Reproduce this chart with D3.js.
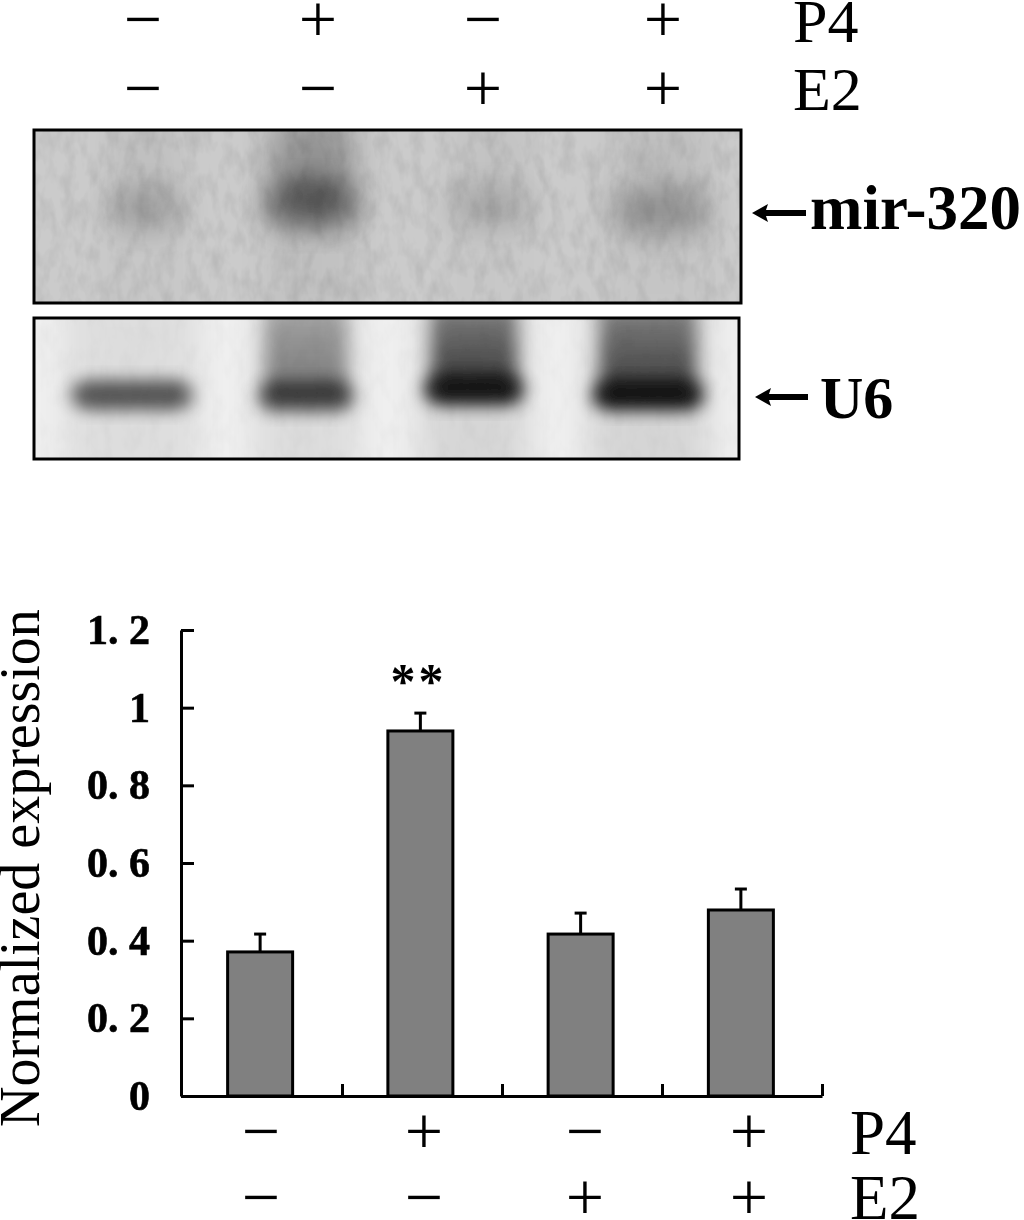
<!DOCTYPE html>
<html>
<head>
  <style>
    body {
      margin: 0;
      background: #fff;
    }
    text {
      font-family: "Liberation Serif", serif;
      fill: #000;
    }
    .axis path, .axis line {
      stroke: #000;
      stroke-width: 3;
    }
    .axis text {
      font-family: "Liberation Serif", serif;
      font-size: 42px;
      font-weight: bold;
      stroke: #000;
      stroke-width: 0.6;
    }
  </style>
</head>
<body>
  <script src="https://d3js.org/d3.v7.min.js"></script>
  <script>
    var groups = ["ctrl", "p4", "e2", "p4e2"];
    var p4Signs = ["\u2212", "+", "\u2212", "+"];
    var e2Signs = ["\u2212", "\u2212", "+", "+"];
    var expression = [0.371, 0.94, 0.417, 0.479];
    var errors = [0.046, 0.046, 0.054, 0.054];
    var yTicks = [0, 0.2, 0.4, 0.6, 0.8, 1, 1.2];
    var yTickLabels = ["0", "0. 2", "0. 4", "0. 6", "0. 8", "1", "1. 2"];

    // blot band darkness per lane, 0..1
    var mirBand = [0.26, 0.72, 0.2, 0.36];
    var mirSmear = [0.04, 0.3, 0.03, 0.05];
    var u6Band = [0.72, 0.74, 0.98, 1];
    var u6Smear = [0, 0.42, 0.68, 0.66];

    var width = 1024, height = 1220;
    var svg = d3.select("body").append("svg")
        .attr("width", width)
        .attr("height", height)
        .style("display", "block");

    var defs = svg.append("defs");
    function blurFilter(id, dev) {
      defs.append("filter").attr("id", id)
          .attr("x", "-50%").attr("y", "-50%").attr("width", "200%").attr("height", "200%")
        .append("feGaussianBlur").attr("stdDeviation", dev);
    }
    blurFilter("soft", "15 13");
    blurFilter("softer", "9 8");
    blurFilter("halo", "16 12");
    blurFilter("edge", 0.5);

    var fade = defs.append("linearGradient").attr("id", "smearFade")
        .attr("x1", 0).attr("y1", 0).attr("x2", 0).attr("y2", 1);
    fade.append("stop").attr("offset", "0%").attr("stop-color", "#000").attr("stop-opacity", 0.55);
    fade.append("stop").attr("offset", "100%").attr("stop-color", "#000").attr("stop-opacity", 1);

    var grain = defs.append("filter").attr("id", "grain")
        .attr("x", 0).attr("y", 0).attr("width", "100%").attr("height", "100%");
    grain.append("feTurbulence")
        .attr("type", "fractalNoise")
        .attr("baseFrequency", "0.08 0.04")
        .attr("numOctaves", 3)
        .attr("seed", 7);
    grain.append("feColorMatrix")
        .attr("values", "0 0 0 0 0  0 0 0 0 0  0 0 0 0 0  1.1 0 0 0 -0.42");

    // panels
    var blots = svg.append("g").attr("filter", "url(#edge)");

    function drawBlot(id, x0, y0, x1, y1, bg, grainOpacity, lanes, bands, smears, opts) {
      defs.append("clipPath").attr("id", id)
        .append("rect").attr("x", x0).attr("y", y0).attr("width", x1 - x0).attr("height", y1 - y0);
      var g = blots.append("g").attr("clip-path", "url(#" + id + ")");
      g.append("rect").attr("x", x0).attr("y", y0).attr("width", x1 - x0).attr("height", y1 - y0).attr("fill", bg);

      // faint lane shadow down the whole panel
      g.selectAll(".halo").data(bands).enter().append("rect")
          .attr("class", "halo")
          .attr("x", (d, i) => lanes(groups[i]) - opts.hw(groups[i]) * 1.1)
          .attr("y", y0 - 20)
          .attr("width", (d, i) => opts.hw(groups[i]) * 2.2)
          .attr("height", y1 - y0 + 40)
          .attr("fill", "#000")
          .attr("opacity", d => d * opts.haloAlpha)
          .attr("filter", "url(#halo)");
      g.selectAll(".smear").data(smears).enter().append("rect")
          .attr("class", "smear")
          .attr("x", (d, i) => lanes(groups[i]) - opts.hw(groups[i]) * 0.88)
          .attr("y", y0 - 10)
          .attr("width", (d, i) => opts.hw(groups[i]) * 1.76)
          .attr("height", (d, i) => opts.bandY(groups[i]) - y0 + 10)
          .attr("fill", "url(#smearFade)")
          .attr("opacity", d => d * opts.smearAlpha)
          .attr("filter", "url(#" + opts.blur + ")");
      g.selectAll(".band").data(bands).enter().append("rect")
          .attr("class", "band")
          .attr("x", (d, i) => lanes(groups[i]) - opts.hw(groups[i]))
          .attr("y", (d, i) => opts.bandY(groups[i]) - opts.bandH)
          .attr("width", (d, i) => opts.hw(groups[i]) * 2)
          .attr("height", opts.bandH * 2)
          .attr("rx", opts.bandH)
          .attr("fill", "#000")
          .attr("opacity", d => d * opts.bandAlpha)
          .attr("filter", "url(#" + opts.blur + ")");

      g.append("rect").attr("x", x0).attr("y", y0).attr("width", x1 - x0).attr("height", y1 - y0)
          .attr("filter", "url(#grain)")
          .attr("opacity", grainOpacity);

      blots.append("rect").attr("x", x0).attr("y", y0).attr("width", x1 - x0).attr("height", y1 - y0)
          .attr("fill", "none").attr("stroke", "#000").attr("stroke-width", 3);
    }

    drawBlot("mirClip", 34, 130, 741, 303, "#cbcbcb", 0.15,
      d3.scaleOrdinal().domain(groups).range([145, 312, 490, 660]),
      mirBand, mirSmear, {
        hw: d3.scaleOrdinal().domain(groups).range([38, 44, 40, 48]),
        bandY: d3.scaleOrdinal().domain(groups).range([210, 206, 208, 213]),
        bandH: 24,
        bandAlpha: 0.62,
        haloAlpha: 0.06,
        blur: "soft",
        smearAlpha: 1.1
      });

    drawBlot("u6Clip", 34, 318, 739, 459, "#efefef", 0.04,
      d3.scaleOrdinal().domain(groups).range([132, 306, 474, 648]),
      u6Band, u6Smear, {
        hw: d3.scaleOrdinal().domain(groups).range([60, 47, 49, 55]),
        bandY: d3.scaleOrdinal().domain(groups).range([395, 397, 391, 396]),
        bandH: 15,
        bandAlpha: 0.85,
        haloAlpha: 0.1,
        blur: "softer",
        smearAlpha: 1.1
      });

    // arrows
    function arrow(x0, x1, y) {
      svg.append("path")
          .attr("d", d3.line()([[x0, y], [x0 + 16, y - 9], [x0 + 14, y - 3], [x1, y - 3], [x1, y + 3], [x0 + 14, y + 3], [x0 + 16, y + 9]]) + "Z")
          .attr("fill", "#000");
    }
    arrow(752, 806, 213);
    arrow(755, 808, 397);

    svg.append("text").attr("x", 810).attr("y", 229).attr("font-size", 63).attr("font-weight", "bold").text("mir-320");
    svg.append("text").attr("x", 820).attr("y", 418).attr("font-size", 60).attr("font-weight", "bold").text("U6");

    // sign rows
    var topLanes = d3.scaleOrdinal().domain(groups).range([143, 318, 483, 663]);
    var bottomLanes = d3.scaleOrdinal().domain(groups).range([261, 424, 585, 749]);

    function signRow(signs, lanes, y, label, labelX, labelY, size) {
      svg.append("g").selectAll("text").data(signs).enter().append("text")
          .attr("x", (d, i) => lanes(groups[i]))
          .attr("y", y)
          .attr("text-anchor", "middle")
          .attr("font-size", 68)
          .text(d => d);
      svg.append("text").attr("x", labelX).attr("y", labelY).attr("font-size", size).text(label);
    }
    signRow(p4Signs, topLanes, 42, "P4", 793, 42, 62);
    signRow(e2Signs, topLanes, 111, "E2", 793, 110, 62);
    signRow(p4Signs, bottomLanes, 1154, "P4", 850, 1154, 63);
    signRow(e2Signs, bottomLanes, 1220, "E2", 850, 1219, 63);

    // bar chart
    var xAxisScale = d3.scaleBand().domain(groups).range([180, 821]);
    var y = d3.scaleLinear().domain([0, 1.2]).range([1096, 630]);

    var yAxis = d3.axisLeft(y)
        .tickValues(yTicks)
        .tickFormat((d, i) => yTickLabels[i])
        .tickSizeInner(-13)
        .tickSizeOuter(0)
        .tickPadding(31);
    svg.append("g").attr("class", "axis")
        .attr("transform", "translate(181,0)")
        .call(yAxis);

    var xAxis = d3.axisBottom(d3.scaleLinear().domain([0, 4]).range([182, 822]))
        .tickValues([1, 2, 3, 4])
        .tickFormat("")
        .tickSizeInner(-12)
        .tickSizeOuter(0);
    svg.append("g").attr("class", "axis")
        .attr("transform", "translate(0,1096)")
        .call(xAxis);

    var barWidth = 65;
    var bars = svg.append("g");
    var center = (d, i) => xAxisScale(groups[i]) + xAxisScale.bandwidth() / 2;

    bars.selectAll(".err").data(errors).enter().append("line")
        .attr("class", "err")
        .attr("x1", center)
        .attr("x2", center)
        .attr("y1", (d, i) => y(expression[i]))
        .attr("y2", (d, i) => y(expression[i] + d))
        .attr("stroke", "#000").attr("stroke-width", 3);
    bars.selectAll(".cap").data(errors).enter().append("line")
        .attr("class", "cap")
        .attr("x1", (d, i) => center(d, i) - 6)
        .attr("x2", (d, i) => center(d, i) + 6)
        .attr("y1", (d, i) => y(expression[i] + d))
        .attr("y2", (d, i) => y(expression[i] + d))
        .attr("stroke", "#000").attr("stroke-width", 3);

    bars.selectAll(".bar").data(expression).enter().append("rect")
        .attr("class", "bar")
        .attr("x", (d, i) => center(d, i) - barWidth / 2)
        .attr("y", d => y(d))
        .attr("width", barWidth)
        .attr("height", d => y(0) - y(d))
        .attr("fill", "#808080")
        .attr("stroke", "#000")
        .attr("stroke-width", 3);

    svg.append("text")
        .attr("x", xAxisScale("p4") + xAxisScale.bandwidth() / 2 - 2)
        .attr("y", 698)
        .attr("text-anchor", "middle")
        .attr("font-size", 50)
        .attr("letter-spacing", 3)
        .attr("font-weight", "bold")
        .text("**");

    svg.append("text")
        .attr("transform", "translate(39,1127) rotate(-90)")
        .attr("font-size", 56)
        .text("Normalized expression");
  </script>
</body>
</html>
